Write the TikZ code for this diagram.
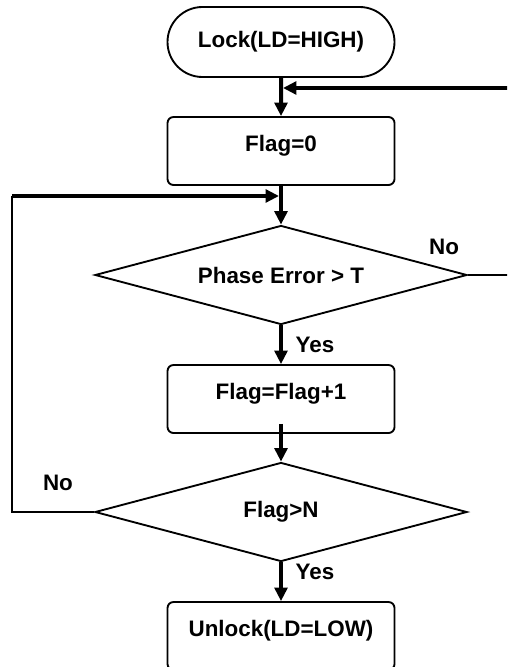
\documentclass[tikz,border=0pt]{standalone}
\usepackage{fontspec}
\setmainfont{Liberation Sans}
\usetikzlibrary{shapes.geometric,shapes.misc,arrows.meta}
\begin{document}
\begin{tikzpicture}[x=0.75pt,y=-0.75pt,
  font=\fontsize{16.8}{19}\selectfont\bfseries,
  outline/.style={draw=black,line width=1.4pt},
  termbox/.style={outline,rounded rectangle,minimum width=170.25pt,minimum height=52.5pt,inner sep=0pt},
  procbox/.style={outline,rectangle,rounded corners=4.5pt,minimum width=170.25pt,minimum height=51pt,inner sep=0pt,text height=12pt,text depth=12pt},
  decbox/.style={outline,diamond,aspect=3.76,minimum width=279pt,minimum height=74.25pt,inner sep=0pt},
  tipstyle/.style={-{Triangle[length=10pt,width=9.5pt]}},
  flow/.style={line width=3pt,tipstyle},
  thinline/.style={line width=1.4pt},
  lab/.style={inner sep=0pt}]
\useasboundingbox (0,0) rectangle (507,667);
\clip (0,0) rectangle (507,667);
\node[termbox] (lock) at (281,42) {Lock(LD=HIGH)};
\node[procbox] (f0) at (281,151) {Flag=0};
\node[decbox] (d1) at (281,275) {Phase Error > T};
\node[procbox] (f1) at (281,399) {Flag=Flag+1};
\node[decbox] (d2) at (281,512) {Flag>N};
\node[procbox] (un) at (281,636) {Unlock(LD=LOW)};
\coordinate (jtop) at (281,88);
\coordinate (rtop) at (508,88);
\coordinate (jmid) at (281,196);
\coordinate (ltop) at (12,196);
\coordinate (lbot) at (12,512);
\coordinate (rmid) at (508,275);
\draw[flow] (lock) -- (f0);
\draw[flow] (rtop) -- ([xshift=1.5pt]jtop);
\draw[flow] (f0) -- (d1);
\draw[thinline] (d2.west) -- (lbot) -- (ltop);
\draw[flow] (ltop) -- ([xshift=-1.5pt]jmid);
\draw[thinline] (d1.east) -- (rmid);
\draw[flow] (d1) -- (f1);
\draw[flow] ([yshift=7.5pt]f1.south) -- (d2.north);
\draw[flow] (d2) -- (un);
\node[lab] (no1) at (444,247) {No};
\node[lab] (yes1) at (315,345) {Yes};
\node[lab] (no2) at (58,483) {No};
\node[lab] (yes2) at (315,572) {Yes};
\end{tikzpicture}
\end{document}
